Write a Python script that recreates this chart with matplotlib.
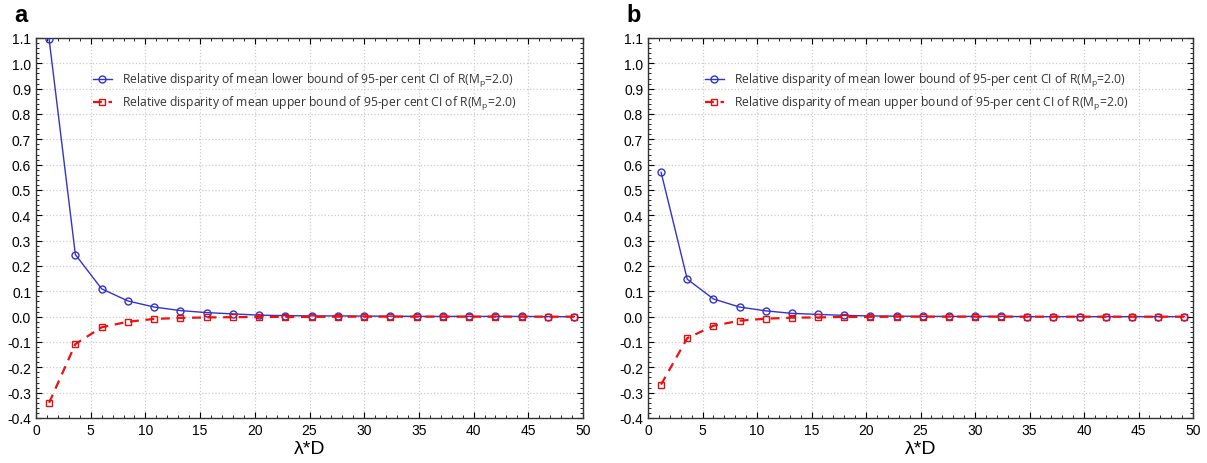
import matplotlib
matplotlib.use("Agg")
import matplotlib.pyplot as plt
from matplotlib.ticker import MultipleLocator, FormatStrFormatter

lam_d = [1.2, 3.6, 6.0, 8.4, 10.8, 13.2, 15.6, 18.0, 20.4, 22.8, 25.2,
         27.6, 30.0, 32.4, 34.8, 37.2, 39.6, 42.0, 44.4, 46.8, 49.2]

lower_a = [1.095, 0.245, 0.110, 0.062, 0.038, 0.024, 0.016, 0.011, 0.006, 0.004, 0.003,
           0.003, 0.002, 0.002, 0.001, 0.001, 0.001, 0.001, 0.001, 0.000, 0.000]
upper_a = [-0.340, -0.108, -0.042, -0.020, -0.009, -0.005, -0.003, -0.002, -0.001, -0.001, -0.001,
           0.000, 0.000, 0.000, 0.000, 0.000, 0.000, 0.000, 0.000, 0.000, 0.000]

lower_b = [0.570, 0.148, 0.070, 0.038, 0.023, 0.013, 0.009, 0.005, 0.003, 0.002, 0.001,
           0.001, 0.001, 0.001, 0.000, 0.000, 0.000, 0.000, 0.000, 0.000, 0.000]
upper_b = [-0.268, -0.085, -0.036, -0.016, -0.008, -0.004, -0.003, -0.001, -0.001, 0.000, 0.000,
           0.000, 0.000, 0.000, 0.000, 0.000, 0.000, 0.000, 0.000, 0.000, 0.000]

panel_labels = ["a", "b"]
legend_lower = "Relative disparity of mean lower bound of 95-per cent CI of R(M$_{\\rm p}$=2.0)"
legend_upper = "Relative disparity of mean upper bound of 95-per cent CI of R(M$_{\\rm p}$=2.0)"
xlabel = "λ*D"

plt.rcParams['font.family'] = ['Liberation Sans', 'DejaVu Sans']
plt.rcParams['mathtext.fontset'] = 'custom'
plt.rcParams['mathtext.rm'] = 'Open Sans'

fig = plt.figure(figsize=(12.07, 4.64), dpi=100)
W, H = 1207, 464
boxes = [(36, 583), (648, 1193)]
top_px, bot_px = 39, 419

for (l, r), lab, lo, up in zip(boxes, panel_labels, [lower_a, lower_b], [upper_a, upper_b]):
    ax = fig.add_axes([l / W, 1 - bot_px / H, (r - l) / W, (bot_px - top_px) / H])
    ax.plot(lam_d, lo, color='#3333cc', lw=1.0, marker='o', ms=5, mfc='none',
            mec='#3333cc', mew=1.0, label=legend_lower, zorder=3)
    ax.plot(lam_d, up, color='#ee1111', lw=1.6, ls=(0, (4, 3)), marker='s', ms=5,
            mfc='none', mec='#dd1111', mew=1.0, label=legend_upper, zorder=3)
    ax.set_xlim(0, 50)
    ax.set_ylim(-0.4, 1.1)
    ax.xaxis.set_major_locator(MultipleLocator(5))
    ax.xaxis.set_minor_locator(MultipleLocator(1))
    ax.yaxis.set_major_locator(MultipleLocator(0.1))
    ax.yaxis.set_minor_locator(MultipleLocator(0.02))
    ax.yaxis.set_major_formatter(FormatStrFormatter('%.1f'))
    ax.tick_params(which='both', direction='in', top=True, right=True, labelsize=10)
    ax.tick_params(which='major', length=4)
    ax.tick_params(which='minor', length=2)
    ax.grid(True, which='major', color='#cccccc', ls=':', lw=0.9)
    for s in ax.spines.values():
        s.set_linewidth(1.0)
        s.set_color('#333333')
    ax.set_xlabel(xlabel, fontsize=14, labelpad=2)
    leg = ax.legend(loc='upper left', bbox_to_anchor=(0.095, 0.925), frameon=False,
                    handlelength=1.6, handletextpad=0.8, borderaxespad=0, labelspacing=0.4,
                    prop={'family': ['Open Sans', 'DejaVu Sans'], 'size': 8.7})
    for t in leg.get_texts():
        t.set_color('#333333')
    fig.text((l - 22) / W, 1 - 16 / H, lab, fontsize=17, fontweight='bold',
             ha='left', va='center')

fig.savefig("out.png", dpi=100)
